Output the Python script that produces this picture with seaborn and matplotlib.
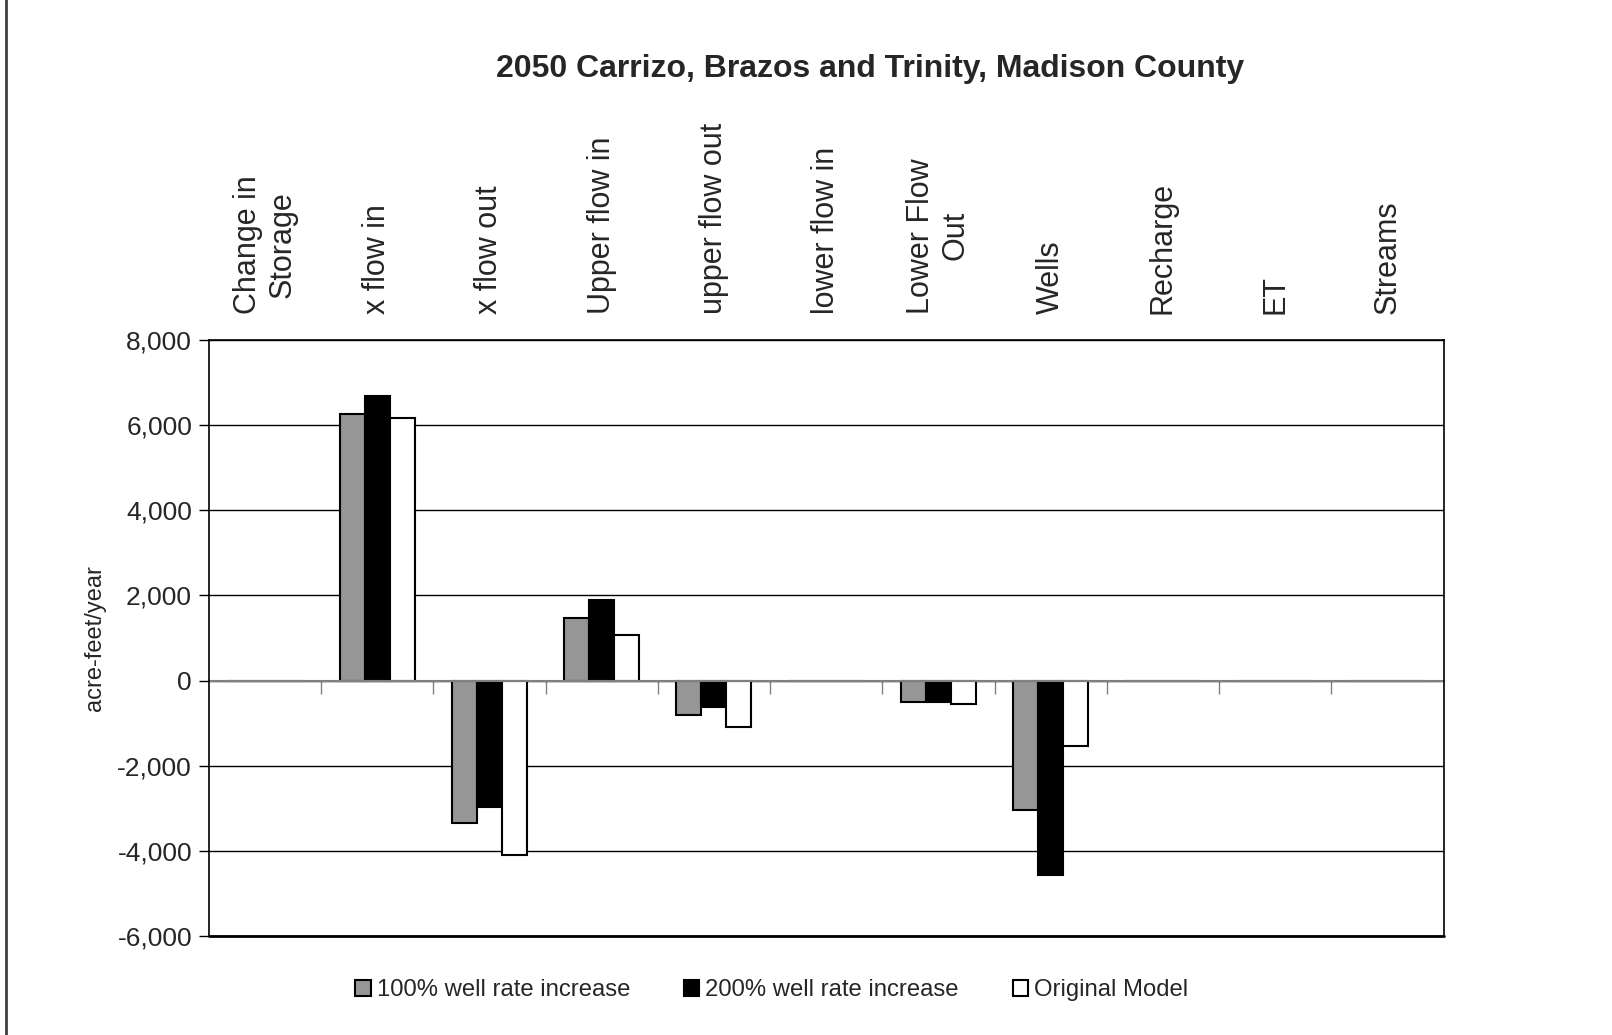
import matplotlib
matplotlib.use("Agg")
import matplotlib.pyplot as plt
from matplotlib.lines import Line2D
from matplotlib.patches import Patch
from matplotlib.ticker import FuncFormatter, MultipleLocator
import pandas as pd
import seaborn as sns

categories = ["Change in\nStorage", "x flow in", "x flow out", "Upper flow in",
              "upper flow out", "lower flow in", "Lower Flow\nOut", "Wells",
              "Recharge", "ET", "Streams"]
series_names = ["100% well rate increase", "200% well rate increase", "Original Model"]
rate_100 = [0, 6250, -3340, 1460, -810, 0, -510, -3050, 0, 0, 0]
rate_200 = [0, 6690, -2980, 1900, -610, 0, -510, -4560, 0, 0, 0]
original = [0, 6160, -4090, 1060, -1090, 0, -540, -1530, 0, 0, 0]
series_colors = ["#969696", "#000000", "#ffffff"]

title = "2050 Carrizo, Brazos and Trinity, Madison County"
y_label = "acre-feet/year"

df = pd.DataFrame({
    "category": categories * 3,
    "series": [s for s in series_names for _ in categories],
    "value": rate_100 + rate_200 + original,
})

sns.set_style("white")
plt.rcParams["font.family"] = ["Liberation Sans", "DejaVu Sans"]

fig = plt.figure(figsize=(16.12, 10.35), dpi=100)
ax = fig.add_axes([0.1295, 0.0957, 0.8955 - 0.1295, 0.6715 - 0.0957])

sns.barplot(data=df, x="category", y="value", hue="series", order=categories,
            hue_order=series_names, palette=series_colors, width=0.668,
            edgecolor="black", linewidth=1.5, saturation=1, ax=ax, legend=False)

ax.set_ylim(-6000, 8000)
ax.set_xlim(-0.5, len(categories) - 0.5)
ax.yaxis.set_major_locator(MultipleLocator(2000))
ax.yaxis.set_major_formatter(FuncFormatter(lambda v, _: f"{int(v):,}"))
ax.grid(axis="y", color="black", linewidth=1.0)
ax.set_axisbelow(True)
for side in ["left", "top", "right"]:
    ax.spines[side].set_visible(True)
    ax.spines[side].set_color("black")
    ax.spines[side].set_linewidth(1.2)

# category axis crosses at zero, tick marks between categories
ax.spines["bottom"].set_position(("data", 0))
ax.spines["bottom"].set_color("#808080")
ax.spines["bottom"].set_linewidth(1.5)
ax.spines["bottom"].set_zorder(1)
ax.set_xticks([i + 0.5 for i in range(len(categories) - 1)])
ax.set_xticklabels([])
ax.tick_params(axis="x", bottom=True, length=9, width=1, color="#808080", direction="out")
ax.tick_params(axis="y", left=True, length=7, width=1, color="black",
               labelsize=19, pad=5)
ax.set_xlabel("")
ax.set_ylabel(y_label, fontsize=17, labelpad=8)

# bottom frame of the plot area
ax.axhline(-6000, color="black", linewidth=2.0, clip_on=False)

# category labels above the plot area
top = ax.secondary_xaxis("top")
top.set_xticks(range(len(categories)))
top.set_xticklabels(categories, rotation=90, fontsize=22, multialignment="center",
                    va="bottom", ha="center")
top.tick_params(length=0, pad=19)
top.spines["top"].set_visible(False)

fig.text(0.540, 0.933, title, ha="center", va="center", fontsize=23, fontweight="bold")

handles = [Patch(facecolor=c, edgecolor="black", linewidth=1.5) for c in series_colors]
fig.legend(handles, series_names, loc="center", bbox_to_anchor=(0.4787, 0.043), ncol=3,
           frameon=False, fontsize=17.2, handlelength=0.65, handleheight=0.65,
           handletextpad=0.25, columnspacing=2.25)

fig.add_artist(Line2D([0.0037, 0.0037], [0, 1], transform=fig.transFigure,
                      color="#404040", linewidth=2))

fig.savefig("out.png", dpi=100, facecolor="white")
